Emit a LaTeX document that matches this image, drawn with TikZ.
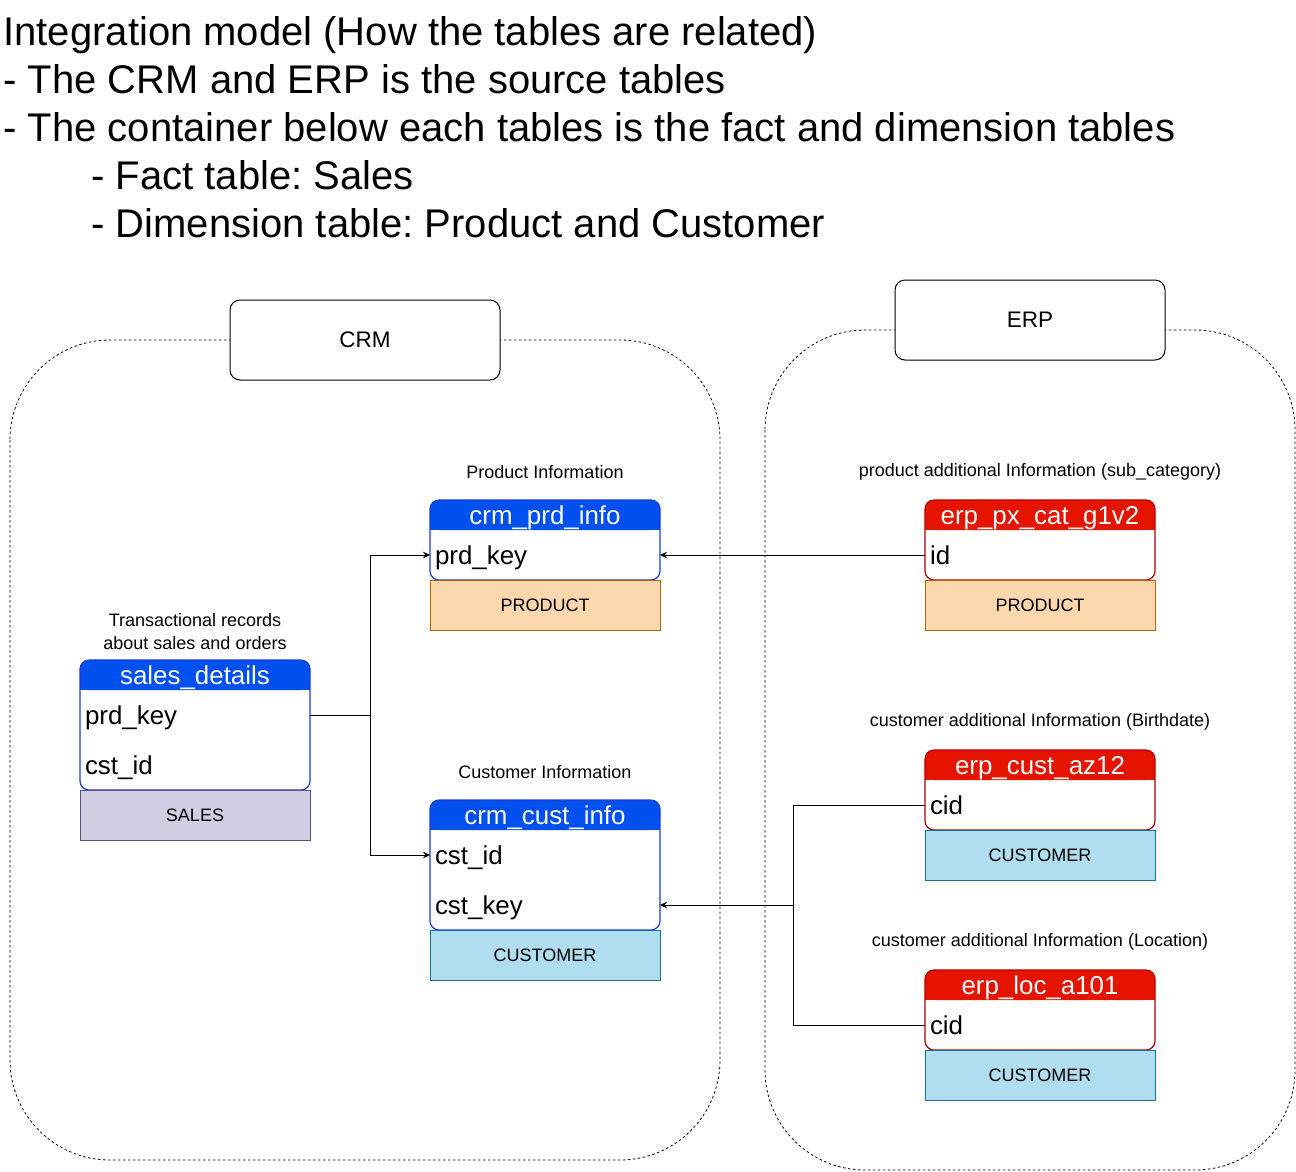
\documentclass[tikz,border=0pt]{standalone}
\usepackage{fontspec}
\setmainfont{Liberation Sans}
\usetikzlibrary{arrows.meta,backgrounds}
\definecolor{crmblue}{HTML}{0050EF}
\definecolor{crmline}{HTML}{1A3BD8}
\definecolor{erpred}{HTML}{E51400}
\definecolor{erpline}{HTML}{B20000}
\definecolor{prodfill}{HTML}{FAD7AC}
\definecolor{prodline}{HTML}{B46504}
\definecolor{salesfill}{HTML}{D0CEE2}
\definecolor{salesline}{HTML}{56517E}
\definecolor{custfill}{HTML}{B1DDF0}
\definecolor{custline}{HTML}{10739E}
\frenchspacing

\begin{document}
\begin{tikzpicture}[x=1pt,y=-1pt,line width=1pt,
    >={Stealth[length=7pt,width=6.5pt]},
    titleline/.style={anchor=base west,inner sep=0pt,font=\fontsize{40}{48}\selectfont},
    notelbl/.style={inner sep=0pt,align=center,font=\fontsize{18}{23}\selectfont},
    srcbox/.style={draw,fill=white,rounded corners=10pt,minimum width=270pt,minimum height=80pt,font=\fontsize{22.5}{27}\selectfont},
    srcarea/.style={line width=0.8pt,dash pattern=on 2.5pt off 2.5pt,rounded corners=100pt},
    tblhead/.style={minimum width=230pt,minimum height=30pt,inner sep=0pt,outer sep=0pt,text=white,text height=20pt,text depth=2pt,font=\fontsize{25.9}{30}\selectfont},
    tblrow/.style={anchor=north,minimum height=50pt,text width=220pt,inner xsep=5pt,inner ysep=0pt,outer sep=0pt,align=left,text height=20pt,text depth=2pt,font=\fontsize{25.9}{30}\selectfont},
    crmframe/.style={draw=crmline,line width=1.2pt,rounded corners=9pt},
    erpframe/.style={draw=erpline,line width=1.2pt,rounded corners=9pt},
    tagbox/.style={anchor=north,draw,minimum width=230pt,minimum height=50pt,inner sep=0pt,outer sep=0pt,font=\fontsize{18}{22}\selectfont},
    prodbox/.style={tagbox,fill=prodfill,draw=prodline},
    salesbox/.style={tagbox,fill=salesfill,draw=salesline},
    custbox/.style={tagbox,fill=custfill,draw=custline}]
  \useasboundingbox (0,0) rectangle (1296,1171);

  % heading text
  \node[titleline] (t1) at (3,45) {Integration model (How the tables are related)};
  \node[titleline] (t2) at (3,93) {- The CRM and ERP is the source tables};
  \node[titleline] (t3) at (3,141) {- The container below each tables is the fact and dimension tables};
  \node[titleline] (t4) at (91,189) {- Fact table: Sales};
  \node[titleline] (t5) at (91,237) {- Dimension table: Product and Customer};

  % source system containers
  \draw[srcarea] (10,340) rectangle (720,1160);
  \node[srcbox] (crm) at (365,340) {CRM};
  \draw[srcarea] (765,330) rectangle (1295,1170);
  \node[srcbox] (erp) at (1030,320) {ERP};

  % crm_prd_info
  \node[notelbl] (cpi_lbl) at (545,472) {Product Information};
  \node[tblhead] (cpi_head) at (545,515) {crm\_prd\_info};
  \node[tblrow] (cpi_prd) at (cpi_head.south) {prd\_key};
  \draw[crmframe] (cpi_head.north west) rectangle (cpi_prd.south east);
  \node[prodbox] (cpi_tag) at (cpi_prd.south) {PRODUCT};

  % sales_details
  \node[notelbl] (sd_lbl) at (195,632) {Transactional records\\about sales and orders};
  \node[tblhead] (sd_head) at (195,675) {sales\_details};
  \node[tblrow] (sd_prd) at (sd_head.south) {prd\_key};
  \node[tblrow] (sd_cst) at (sd_prd.south) {cst\_id};
  \draw[crmframe] (sd_head.north west) rectangle (sd_cst.south east);
  \node[salesbox] (sd_tag) at (sd_cst.south) {SALES};

  % crm_cust_info
  \node[notelbl] (cci_lbl) at (545,772) {Customer Information};
  \node[tblhead] (cci_head) at (545,815) {crm\_cust\_info};
  \node[tblrow] (cci_cst) at (cci_head.south) {cst\_id};
  \node[tblrow] (cci_key) at (cci_cst.south) {cst\_key};
  \draw[crmframe] (cci_head.north west) rectangle (cci_key.south east);
  \node[custbox] (cci_tag) at (cci_key.south) {CUSTOMER};

  % erp_px_cat_g1v2
  \node[notelbl] (epx_lbl) at (1040,472) {product additional Information (sub\_category)};
  \node[tblhead] (epx_head) at (1040,515) {erp\_px\_cat\_g1v2};
  \node[tblrow] (epx_id) at (epx_head.south) {id};
  \draw[erpframe] (epx_head.north west) rectangle (epx_id.south east);
  \node[prodbox] (epx_tag) at (epx_id.south) {PRODUCT};

  % erp_cust_az12
  \node[notelbl] (eca_lbl) at (1040,722) {customer additional Information (Birthdate)};
  \node[tblhead] (eca_head) at (1040,765) {erp\_cust\_az12};
  \node[tblrow] (eca_cid) at (eca_head.south) {cid};
  \draw[erpframe] (eca_head.north west) rectangle (eca_cid.south east);
  \node[custbox] (eca_tag) at (eca_cid.south) {CUSTOMER};

  % erp_loc_a101
  \node[notelbl] (elo_lbl) at (1040,942) {customer additional Information (Location)};
  \node[tblhead] (elo_head) at (1040,985) {erp\_loc\_a101};
  \node[tblrow] (elo_cid) at (elo_head.south) {cid};
  \draw[erpframe] (elo_head.north west) rectangle (elo_cid.south east);
  \node[custbox] (elo_tag) at (elo_cid.south) {CUSTOMER};

  % title bars, behind the header texts
  \begin{scope}[on background layer]
    \foreach \hd/\col in {cpi_head/crmblue,sd_head/crmblue,cci_head/crmblue,
                          epx_head/erpred,eca_head/erpred,elo_head/erpred}{
      \fill[\col,rounded corners=9pt] (\hd.north west) rectangle (\hd.south east);
      \fill[\col] (\hd.west) rectangle (\hd.south east);
    }
  \end{scope}

  % keys between the tables
  \coordinate (crmjoin) at (370,715);
  \draw (sd_prd.east) -- (crmjoin);
  \draw[->] (crmjoin) |- (cpi_prd.west);
  \draw[->] (crmjoin) |- (cci_cst.west);
  \draw[->] (epx_id.west) -- (cpi_prd.east);
  \coordinate (erpjoin) at (793,905);
  \draw (eca_cid.west) -| (erpjoin);
  \draw (elo_cid.west) -| (erpjoin);
  \draw[->] (erpjoin) -- (cci_key.east);
\end{tikzpicture}
\end{document}
